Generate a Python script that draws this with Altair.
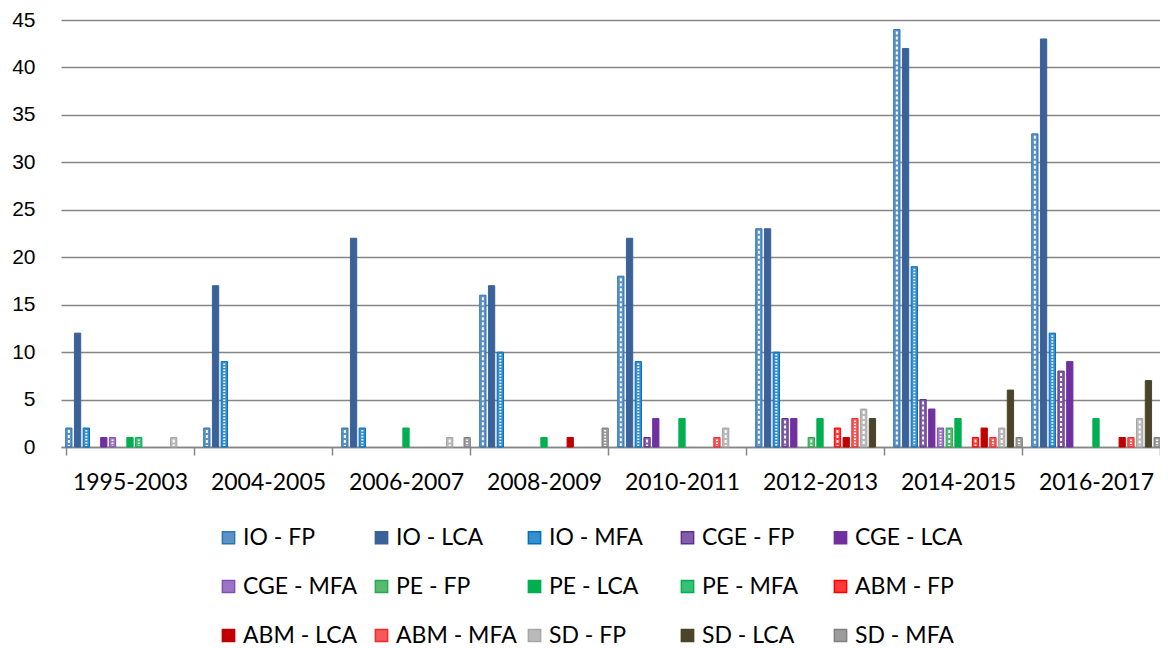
import altair as alt
import pandas as pd

periods = ["1995-2003", "2004-2005", "2006-2007", "2008-2009",
           "2010-2011", "2012-2013", "2014-2015", "2016-2017"]

series = ["IO - FP", "IO - LCA", "IO - MFA",
          "CGE - FP", "CGE - LCA", "CGE - MFA",
          "PE - FP", "PE - LCA", "PE - MFA",
          "ABM - FP", "ABM - LCA", "ABM - MFA",
          "SD - FP", "SD - LCA", "SD - MFA"]

io_fp   = [2, 2, 2, 16, 18, 23, 44, 33]
io_lca  = [12, 17, 22, 17, 22, 23, 42, 43]
io_mfa  = [2, 9, 2, 10, 9, 10, 19, 12]
cge_fp  = [0, 0, 0, 0, 1, 3, 5, 8]
cge_lca = [1, 0, 0, 0, 3, 3, 4, 9]
cge_mfa = [1, 0, 0, 0, 0, 0, 2, 0]
pe_fp   = [0, 0, 0, 0, 0, 1, 2, 0]
pe_lca  = [1, 0, 2, 1, 3, 3, 3, 3]
pe_mfa  = [1, 0, 0, 0, 0, 0, 0, 0]
abm_fp  = [0, 0, 0, 0, 0, 2, 1, 0]
abm_lca = [0, 0, 0, 1, 0, 1, 2, 1]
abm_mfa = [0, 0, 0, 0, 1, 3, 1, 1]
sd_fp   = [1, 0, 1, 0, 2, 4, 2, 3]
sd_lca  = [0, 0, 0, 0, 0, 3, 6, 7]
sd_mfa  = [0, 0, 1, 2, 0, 0, 1, 1]

values = [io_fp, io_lca, io_mfa, cge_fp, cge_lca, cge_mfa, pe_fp, pe_lca,
          pe_mfa, abm_fp, abm_lca, abm_mfa, sd_fp, sd_lca, sd_mfa]

colors = ["#2E75B6", "#3A6298", "#0070C0",
          "#5F2F91", "#7030A0", "#8050B4",
          "#28A84C", "#00B050", "#00B050",
          "#FF0000", "#C00000", "#F22A2A",
          "#A6A6A6", "#4A452A", "#808080"]


def tint(hex_color, amount):
    r, g, b = (int(hex_color[i:i + 2], 16) for i in (1, 3, 5))
    mix = lambda c: int(round(c + (255 - c) * amount))
    return "#{:02X}{:02X}{:02X}".format(mix(r), mix(g), mix(b))


fills = [c if s.endswith("LCA") else tint(c, 0.22) for s, c in zip(series, colors)]

rows = []
for s, vals in zip(series, values):
    kind = s.split(" - ")[1]
    for p, v in zip(periods, vals):
        rows.append({"period": p, "series": s, "value": v, "kind": kind})
df = pd.DataFrame(rows)

FONT = "Lato"

base = alt.Chart(df).transform_filter("datum.value > 0").encode(
    x=alt.X("period:N", sort=periods,
            scale=alt.Scale(paddingInner=0.068, paddingOuter=0.034, range=[0, 1104]),
            axis=alt.Axis(title=None, labelAngle=0, tickBand="extent",
                          labelFont=FONT, labelFontSize=23, labelColor="#000000",
                          labelPadding=16, tickSize=8, tickColor="#868686",
                          domainColor="#868686", domainWidth=1.5, tickWidth=1.5,
                          grid=False)),
    xOffset=alt.XOffset("series:N", sort=series,
                        scale=alt.Scale(paddingInner=0.28, paddingOuter=0.0)),
    y=alt.Y("value:Q",
            scale=alt.Scale(domain=[0, 45], nice=False),
            axis=alt.Axis(title=None, values=list(range(0, 46, 5)),
                          labelFont="Liberation Sans", labelFontSize=21, labelColor="#000000",
                          labelPadding=26, ticks=False, domain=False,
                          grid=True, gridColor="#868686", gridWidth=1.3)),
)

legend = alt.Legend(title=None, orient="none", legendX=156, legendY=506,
                    columns=5, direction="horizontal", gridAlign="all",
                    padding=0,
                    symbolType="square", symbolSize=150,
                    symbolStrokeWidth=1.5, labelFont=FONT,
                    labelFontSize=23, labelColor="#000000",
                    labelOffset=3, rowPadding=25, columnPadding=6,
                    labelLimit=300)

bars = base.mark_bar(strokeWidth=1).encode(
    fill=alt.Fill("series:N", sort=series,
                  scale=alt.Scale(domain=series, range=fills), legend=legend),
    stroke=alt.Stroke("series:N", sort=series,
                      scale=alt.Scale(domain=series, range=colors), legend=legend),
)

dashes = base.transform_filter("datum.kind != 'LCA'").mark_rule(
    color="#FFFFFF", strokeWidth=2, yOffset=2, y2Offset=-1
).encode(
    y2=alt.datum(0),
    strokeDash=alt.StrokeDash("kind:N",
                              scale=alt.Scale(domain=["FP", "MFA"], range=[[3, 2], [1.5, 1.5]]),
                              legend=None),
)

chart = alt.layer(bars, dashes).properties(
    width=1099, height=427,
    autosize=alt.AutoSizeParams(type="none"),
    padding={"left": 53, "top": 12, "right": 0, "bottom": 200},
).configure_view(stroke=None)

chart.save("out.html", embed_options={"renderer": "svg", "actions": False})
